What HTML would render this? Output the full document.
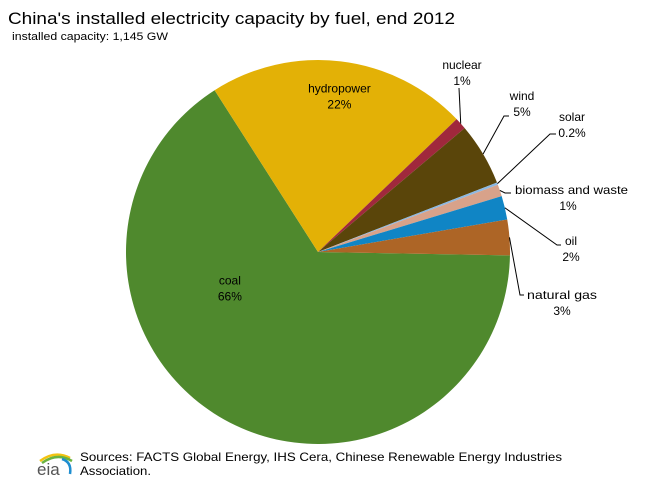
<!DOCTYPE html>
<html><head><meta charset="utf-8"><style>
body{margin:0;background:#fff;font-family:"Liberation Sans",sans-serif;}
svg text{font-family:"Liberation Sans",sans-serif;}
</style></head><body>
<svg width="652" height="487" viewBox="0 0 652 487">
<text x="8" y="24" font-size="17" textLength="447" lengthAdjust="spacingAndGlyphs" fill="#000">China's installed electricity capacity by fuel, end 2012</text>
<text x="12" y="40" font-size="11" textLength="156" lengthAdjust="spacingAndGlyphs" fill="#000">installed capacity: 1,145 GW</text>
<g id="slices"></g>
<g id="labels" font-size="12" fill="#000"></g>
<g>
<path d="M40 461 Q55 450 70 458" stroke="#f2c311" stroke-width="2.5" fill="none"/>
<path d="M42 463 Q57 452 72 461" stroke="#6bb33f" stroke-width="2.5" fill="none"/>
<path d="M62 459 Q72 462 70 474" stroke="#1e8ed0" stroke-width="2.5" fill="none"/>
<text x="37" y="475" font-size="17" fill="#555" font-family="Liberation Serif">eia</text>
</g>
<text x="80" y="461" font-size="12" textLength="482" lengthAdjust="spacingAndGlyphs">Sources: FACTS Global Energy, IHS Cera, Chinese Renewable  Energy Industries</text>
<text x="80" y="475" font-size="12" textLength="71" lengthAdjust="spacingAndGlyphs">Association.</text>
</svg>
<script>
const categories=["coal","hydropower","nuclear","wind","solar","biomass and waste","oil","natural gas"];
const values=[66,22,1,5.3,0.2,1,2,3];
const valueLabels=["66%","22%","1%","5%","0.2%","1%","2%","3%"];
const colors=["#4f892d","#e3b106","#a0283c","#5a450a","#8cb8e2","#d8a28a","#1085c5","#ad6526"];
const NS="http://www.w3.org/2000/svg";
const cx=318,cy=252,r=192,start=1;
const total=values.reduce((a,b)=>a+b,0);
const g=document.getElementById('slices');
let a=start;
const mids=[];
function pt(deg,rad){const t=deg*Math.PI/180;return [cx+rad*Math.cos(t),cy+rad*Math.sin(t)];}
values.forEach((v,i)=>{
  const sw=v/total*360;const a2=a+sw;
  const p1=pt(a,r),p2=pt(a2,r);
  const p=document.createElementNS(NS,'path');
  p.setAttribute('d',`M${cx},${cy}L${p1[0]},${p1[1]}A${r},${r} 0 ${sw>180?1:0} 1 ${p2[0]},${p2[1]}Z`);
  p.setAttribute('fill',colors[i]);
  
  
  g.appendChild(p);
  mids.push(a+sw/2);a=a2;
});
const L=document.getElementById('labels');
function txt(x,y,s,anchor,name){const t=document.createElementNS(NS,'text');t.setAttribute('x',x);t.setAttribute('y',y);t.setAttribute('text-anchor',anchor||'middle');t.textContent=s;


L.appendChild(t);return t;}
function line(pts,name){const l=document.createElementNS(NS,'polyline');l.setAttribute('points',pts.map(p=>p.join(',')).join(' '));l.setAttribute('fill','none');l.setAttribute('stroke','#000');l.setAttribute('stroke-width','1');


L.appendChild(l);}
const pc=pt(mids[0],r*0.3);txt(pc[0]-60,pc[1]-18,categories[0],'middle','label-coal');txt(pc[0]-60,pc[1]-2,valueLabels[0],'middle','value-coal');
const ph=pt(mids[1],r*0.72);txt(ph[0]+5,ph[1]-22,categories[1],'middle','label-hydropower');txt(ph[0]+5,ph[1]-6,valueLabels[1],'middle','value-hydropower');
const outs=[
 [2,[459,88],[459,88],462,69,'middle'],
 [3,[504,116],[509,116],522,100,'middle'],
 [4,[550,134],[556,134],572,121,'middle'],
 [5,[505,193],[511,193],515,194,'start'],
 [6,[557,245],[561,245],571,245,'middle'],
 [7,[520,295],[524,295],527,299,'start']];
outs.forEach(o=>{const i=o[0];const e=pt(mids[i],r);
 line([e,o[1],o[2]],'leader-'+categories[i].replace(/ /g,'-'));
 if(o[5]==='start'){const t=txt(o[3],o[4],categories[i],'start','label-'+categories[i].replace(/ /g,'-'));
  t.setAttribute('textLength',i===5?113:70);t.setAttribute('lengthAdjust','spacingAndGlyphs');
  txt(o[3]+(i===5?53:35),o[4]+16,valueLabels[i],'middle','value-'+categories[i].replace(/ /g,'-'));}
 else{txt(o[3],o[4],categories[i],'middle','label-'+categories[i]);txt(o[3],o[4]+16,valueLabels[i],'middle','value-'+categories[i]);}
});
</script>
</body></html>
